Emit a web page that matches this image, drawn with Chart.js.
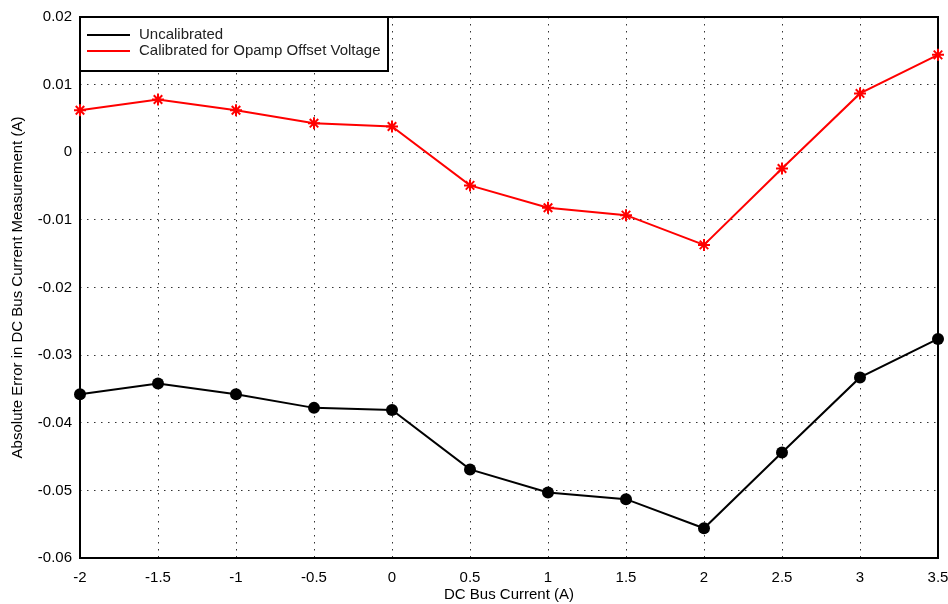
<!DOCTYPE html>
<html>
<head>
<meta charset="utf-8">
<script src="https://cdn.jsdelivr.net/npm/chart.js@4/dist/chart.umd.min.js"></script>
<style>
  html, body { margin: 0; padding: 0; background: #fff; }
  #wrap { width: 948px; height: 604px; }
</style>
</head>
<body>
<div id="wrap"><canvas id="myChart"></canvas></div>
<script>
// data
const currents = [-2, -1.5, -1, -0.5, 0, 0.5, 1, 1.5, 2, 2.5, 3, 3.5];
const uncalibrated = [-0.0358, -0.0342, -0.0358, -0.0378, -0.0381, -0.0469, -0.0503, -0.0513, -0.0556, -0.0444, -0.0333, -0.0276];
const calibrated = [0.0062, 0.0078, 0.0062, 0.0043, 0.0038, -0.0049, -0.0082, -0.0093, -0.0137, -0.0024, 0.0087, 0.0144];
const seriesNames = ["Uncalibrated", "Calibrated for Opamp Offset Voltage"];

const font = "Liberation Sans, Arial, sans-serif";

// plot frame (drawn under the datasets) + boxed legend in the top left corner
const framePlugin = {
  id: "frame",
  beforeDatasetsDraw(chart) {
    const { ctx, chartArea: a } = chart;
    ctx.save();
    ctx.strokeStyle = "#000";
    ctx.lineWidth = 2;
    ctx.strokeRect(a.left, a.top, a.right - a.left, a.bottom - a.top);
    ctx.restore();
  },
  afterDraw(chart) {
    const { ctx, chartArea: a } = chart;
    ctx.save();
    const lx = a.left, ly = a.top, lw = 308, lh = 54;
    ctx.fillStyle = "#fff";
    ctx.fillRect(lx, ly, lw, lh);
    ctx.strokeStyle = "#000";
    ctx.lineWidth = 2;
    ctx.strokeRect(lx, ly, lw, lh);
    ctx.font = "15px " + font;
    ctx.textBaseline = "middle";
    chart.data.datasets.forEach((ds, i) => {
      const y = ly + 18 + i * 16;
      ctx.strokeStyle = ds.borderColor;
      ctx.lineWidth = 2;
      ctx.beginPath();
      ctx.moveTo(lx + 7, y);
      ctx.lineTo(lx + 50, y);
      ctx.stroke();
      ctx.fillStyle = "#222";
      ctx.fillText(ds.label, lx + 59, y);
    });
    ctx.restore();
  }
};

const data = {
  datasets: [
    {
      label: seriesNames[0],
      data: currents.map((x, i) => ({ x: x, y: uncalibrated[i] })),
      borderColor: "#000",
      backgroundColor: "#000",
      borderWidth: 2,
      pointStyle: "circle",
      pointRadius: 6,
      pointBorderWidth: 0,
      clip: false,
    },
    {
      label: seriesNames[1],
      data: currents.map((x, i) => ({ x: x, y: calibrated[i] })),
      borderColor: "#ff0000",
      backgroundColor: "#ff0000",
      borderWidth: 2,
      pointStyle: "star",
      pointRadius: 6,
      pointBorderWidth: 2,
      clip: false,
    },
  ],
};

const config = {
  type: "line",
  data,
  options: {
    responsive: false,
    animation: false,
    layout: { padding: { left: 0, right: 10, top: 14, bottom: 0 } },
    plugins: { legend: { display: false }, tooltip: { enabled: false } },
    scales: {
      x: {
        type: "linear",
        min: -2,
        max: 3.5,
        afterFit: (s) => {
          s.height = 46;
          s.paddingLeft = 0;
          s.paddingRight = 0;
        },
        ticks: {
          stepSize: 0.5,
          color: "#000",
          font: { family: font, size: 15 },
          padding: 11,
          maxRotation: 0,
          callback: (v) => String(Number(v.toFixed(2))),
        },
        grid: { color: "#333", lineWidth: 1, drawTicks: false },
        border: { display: false, dash: [1.5, 5.5] },
        title: {
          display: true,
          text: "DC Bus Current (A)",
          color: "#000",
          font: { family: font, size: 15 },
          padding: { top: 0, bottom: 0 },
        },
      },
      y: {
        min: -0.06,
        max: 0.02,
        afterFit: (s) => { s.width = 80; },
        ticks: {
          stepSize: 0.01,
          color: "#000",
          font: { family: font, size: 15 },
          padding: 8,
          callback: (v) => String(Number(v.toFixed(3))),
        },
        grid: { color: "#333", lineWidth: 1, drawTicks: false },
        border: { display: false, dash: [1.5, 5.5] },
        title: {
          display: true,
          text: "Absolute Error in DC Bus Current Measurement (A)",
          color: "#000",
          font: { family: font, size: 15 },
          padding: { top: 9, bottom: 0 },
        },
      },
    },
  },
  plugins: [framePlugin],
};

const canvas = document.getElementById("myChart");
canvas.width = 948;
canvas.height = 604;
const myChart = new Chart(canvas, config);
</script>
</body>
</html>
